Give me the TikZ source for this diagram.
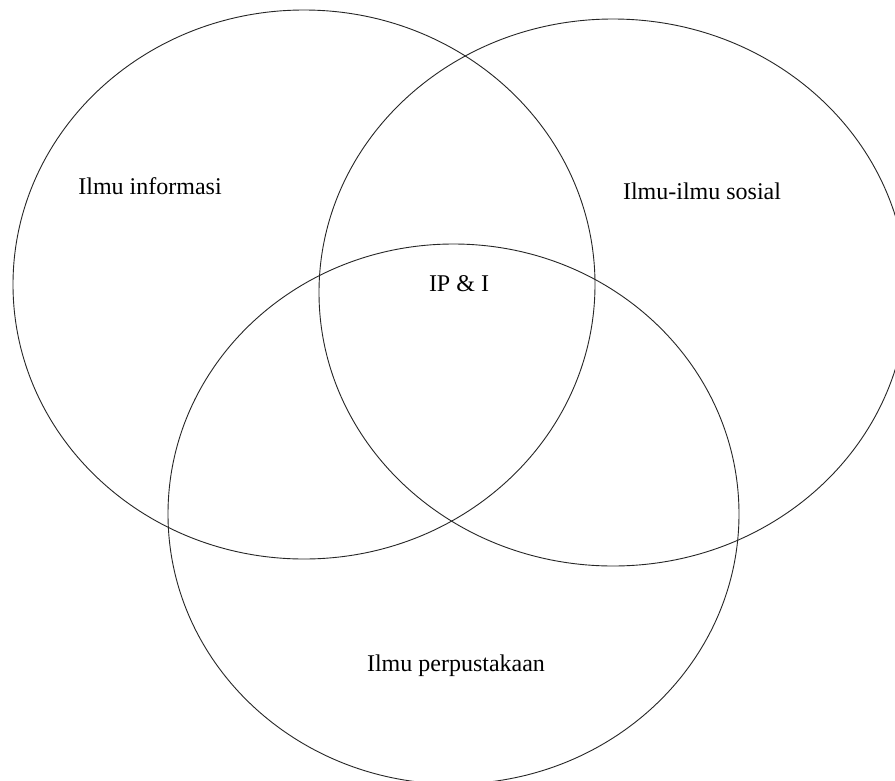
\documentclass[tikz,border=0pt]{standalone}
\usepackage{fontspec}
\setmainfont{Liberation Serif}
\begin{document}
\begin{tikzpicture}[x=1pt,y=-1pt,
  ring/.style={draw=black!85,line width=0.9pt},
  lbl/.style={font=\fontsize{24}{28}\selectfont,inner sep=0pt}]
\useasboundingbox (0,0) rectangle (895,780);
\clip (0,0) rectangle (895,780);
\fill[white] (0,0) rectangle (895,780);
\draw[ring] (304,284.5) ellipse [x radius=291, y radius=274.5];
\draw[ring] (613,292.5) ellipse [x radius=294, y radius=273.5];
\draw[ring] (453.5,514) ellipse [x radius=285.5, y radius=270];
\node[lbl] (info) at (150,186) {Ilmu informasi};
\node[lbl] (sos) at (702,191) {Ilmu-ilmu sosial};
\node[lbl] (ipi) at (459,284) {IP \& I};
\node[lbl] (perp) at (456,666) {Ilmu perpustakaan};
\end{tikzpicture}
\end{document}
